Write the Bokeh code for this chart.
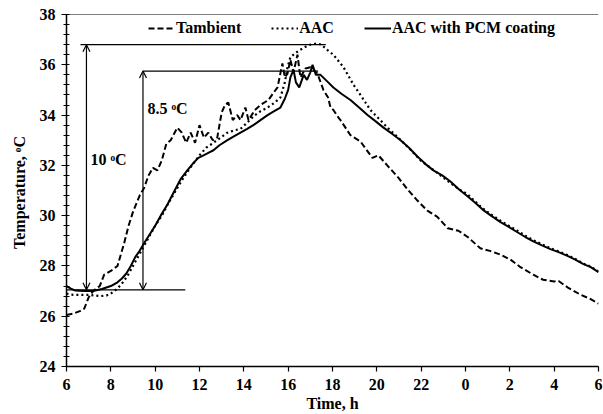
from bokeh.plotting import figure
from bokeh.models import Arrow, OpenHead, Span, Legend, LegendItem, FixedTicker, Label
from bokeh.embed import file_html
from bokeh.resources import INLINE

# time in clock hours, continuing past midnight (24 -> 0, 30 -> 6)
t_amb = [6.0, 6.3, 6.6, 6.8, 7.0, 7.2, 7.5, 7.7, 8.0, 8.3, 8.6, 8.8, 9.0, 9.3, 9.5, 9.7, 9.9, 10.1, 10.3, 10.5,
         10.7, 11.0, 11.2, 11.4, 11.6, 11.8, 12.0, 12.2, 12.4, 12.6, 12.8, 13.0, 13.15, 13.3, 13.5, 13.7, 13.85,
         14.07, 14.21, 14.5, 14.75, 15.11, 15.35, 15.52, 15.74, 15.85, 15.97, 16.1, 16.24, 16.42, 16.55, 16.78,
         17.0, 17.32, 17.59, 17.8, 17.91, 18.04, 18.27, 18.36, 18.81, 19.26, 19.8, 20.07, 20.52, 20.98, 21.38,
         21.83, 22.28, 22.73, 23.2, 23.68, 24.1, 24.67, 25.1, 25.58, 26.03, 26.48, 27.06, 27.5, 28.0, 28.2,
         28.6, 29.2, 29.6, 30.0]
tambient = [26.05, 26.1, 26.2, 26.3, 26.75, 27.0, 27.2, 27.65, 27.8, 28.0, 28.9, 29.6, 30.15, 30.8, 31.1, 31.6,
            31.9, 31.8, 32.2, 32.85, 33.0, 33.5, 33.3, 32.9, 33.3, 32.9, 33.6, 33.1, 33.3, 33.0, 33.1, 34.1, 34.4,
            34.5, 33.8, 34.0, 33.8, 34.3, 33.8, 34.2, 34.4, 34.6, 34.9, 35.1, 36.05, 35.5, 35.65, 36.2, 35.7,
            36.4, 35.5, 35.85, 35.9, 35.65, 35.0, 34.7, 34.3, 34.2, 33.9, 33.8, 33.2, 32.95, 32.3, 32.4, 31.95,
            31.5, 31.05, 30.6, 30.2, 29.95, 29.5, 29.4, 29.15, 28.7, 28.6, 28.45, 28.25, 27.95, 27.65, 27.45,
            27.38, 27.4, 27.15, 26.85, 26.7, 26.5]

t_aac = [6.0, 6.3, 6.6, 7.0, 7.5, 7.8, 8.0, 8.3, 8.5, 8.75, 9.0, 9.25, 9.5, 9.75, 10.0, 10.3, 10.6, 10.9, 11.2,
         11.5, 11.75, 12.0, 12.3, 12.63, 12.95, 13.26, 13.6, 13.85, 14.15, 14.43, 14.75, 15.07, 15.4, 15.65,
         15.85, 15.97, 16.1, 16.3, 16.55, 16.85, 17.0, 17.3, 17.5, 17.75, 18.04, 18.27, 18.5, 18.95, 19.3,
         19.71, 20.1, 20.48, 20.85, 21.2, 21.6, 21.97, 22.35, 22.73, 23.1, 23.46, 23.8, 24.09, 24.45, 24.76,
         25.15, 25.58, 25.95, 26.34, 26.7, 27.06, 27.45, 27.83, 28.2, 28.6, 28.95, 29.3, 29.65, 30.0]
aac = [26.9, 26.85, 26.85, 26.85, 26.8, 26.82, 26.9, 27.1, 27.3, 27.6, 28.0, 28.4, 28.8, 29.2, 29.6, 30.0, 30.5,
       30.95, 31.4, 31.8, 32.1, 32.4, 32.7, 32.9, 33.1, 33.3, 33.4, 33.45, 33.7, 33.95, 34.15, 34.3, 34.5, 34.7,
       35.3, 35.9, 36.3, 36.45, 36.6, 36.75, 36.8, 36.85, 36.8, 36.6, 36.4, 36.15, 35.9, 35.2, 34.75, 34.2,
       33.85, 33.5, 33.2, 32.9, 32.55, 32.2, 31.95, 31.7, 31.45, 31.2, 31.0, 30.85, 30.55, 30.3, 30.05, 29.8,
       29.6, 29.4, 29.2, 29.02, 28.86, 28.7, 28.58, 28.43, 28.28, 28.1, 27.97, 27.78]

t_pcm = [6.0, 6.2, 6.4, 6.8, 7.2, 7.6, 8.0, 8.3, 8.5, 8.7, 8.9, 9.1, 9.3, 9.5, 9.75, 10.0, 10.25, 10.56, 10.85,
         11.14, 11.45, 11.73, 11.95, 12.18, 12.4, 12.63, 12.9, 13.26, 13.55, 13.85, 14.15, 14.43, 14.75, 15.07,
         15.35, 15.65, 15.85, 16.0, 16.1, 16.24, 16.35, 16.5, 16.7, 16.85, 17.0, 17.1, 17.25, 17.46, 17.75,
         18.04, 18.4, 18.81, 19.2, 19.58, 19.95, 20.3, 20.7, 21.07, 21.45, 21.83, 22.2, 22.55, 22.95, 23.32,
         23.7, 24.09, 24.45, 24.76, 25.15, 25.58, 25.95, 26.34, 26.7, 27.06, 27.45, 27.83, 28.2, 28.6, 28.95,
         29.3, 29.65, 30.0]
pcm = [27.2, 27.1, 27.02, 27.0, 27.0, 27.08, 27.2, 27.35, 27.5, 27.7, 28.0, 28.35, 28.6, 28.9, 29.25, 29.6,
       30.0, 30.45, 30.95, 31.44, 31.8, 32.1, 32.3, 32.4, 32.5, 32.6, 32.8, 33.0, 33.15, 33.3, 33.45, 33.6, 33.8,
       34.0, 34.15, 34.3, 34.65, 35.0, 35.5, 35.8, 35.3, 35.1, 35.6, 35.4, 35.7, 36.0, 35.6, 35.6, 35.35, 35.1,
       34.85, 34.6, 34.3, 34.0, 33.75, 33.5, 33.25, 33.0, 32.7, 32.35, 32.05, 31.8, 31.6, 31.36, 31.05, 30.77,
       30.5, 30.25, 30.0, 29.74, 29.55, 29.34, 29.15, 28.98, 28.82, 28.67, 28.55, 28.4, 28.25, 28.08, 27.95,
       27.75]

x_ticks = [6, 8, 10, 12, 14, 16, 18, 20, 22, 24, 26, 28, 30]
x_tick_labels = ["6", "8", "10", "12", "14", "16", "18", "20", "22", "0", "2", "4", "6"]
y_ticks = [24, 26, 28, 30, 32, 34, 36, 38]

# annotation guide lines (temperature levels and time extents)
guide_y = [36.8, 35.75, 27.05]
guide_x0 = [6.63, 9.45, 6.0]
guide_x1 = [17.7, 17.35, 11.36]
arrow_x = [6.9, 9.45]
arrow_y0 = [27.05, 27.05]
arrow_y1 = [36.8, 35.75]
note_text = ["10 \u1d52C", "8.5 \u1d52C"]
note_x = [7.08, 9.65]
note_y = [32.23, 34.28]

FONT = "Liberation Serif"
FS = "16px"

p = figure(width=603, height=414, output_backend="svg", toolbar_location=None,
           x_range=(6, 30), y_range=(24, 38),
           min_border_left=66, min_border_right=5, min_border_top=14, min_border_bottom=46)
p.outline_line_color = None
p.grid.visible = False
p.background_fill_color = "white"
p.border_fill_color = "white"

r_amb = p.line(t_amb, tambient, line_color="black", line_width=2, line_dash="6 3")
r_aac = p.line(t_aac, aac, line_color="black", line_width=2.2, line_dash="2 3")
r_pcm = p.line(t_pcm, pcm, line_color="black", line_width=2)

# top frame line
p.add_layout(Span(location=38, dimension="width", line_color="black", line_width=1.2))

# guide lines
p.segment(x0=guide_x0, y0=guide_y, x1=guide_x1, y1=guide_y, line_color="black", line_width=1.2)

for i in range(len(arrow_x)):
    p.add_layout(Arrow(x_start=arrow_x[i], y_start=arrow_y0[i], x_end=arrow_x[i], y_end=arrow_y1[i],
                       line_color="black", line_width=1.2,
                       end=OpenHead(size=7, line_width=1.2, line_color="black"),
                       start=OpenHead(size=7, line_width=1.2, line_color="black")))
    p.add_layout(Label(x=note_x[i], y=note_y[i], text=note_text[i], text_font=FONT,
                       text_font_style="bold", text_font_size=FS, text_color="black",
                       text_baseline="middle", text_align="left"))

# axes
p.xaxis.ticker = FixedTicker(ticks=x_ticks)
p.xaxis.major_label_overrides = {x_ticks[i]: x_tick_labels[i] for i in range(len(x_ticks))}
p.yaxis.ticker = FixedTicker(ticks=y_ticks, minor_ticks=[24 + 0.4 * k for k in range(36)])
for ax in (p.xaxis, p.yaxis):
    ax.axis_line_color = "black"
    ax.axis_line_width = 1.5
    ax.major_tick_line_color = "black"
    ax.major_tick_line_width = 1.2
    ax.major_tick_out = 5
    ax.major_tick_in = 0
    ax.major_label_text_font = FONT
    ax.major_label_text_font_style = "bold"
    ax.major_label_text_font_size = FS
    ax.major_label_text_color = "black"
    ax.axis_label_text_font = FONT
    ax.axis_label_text_font_style = "bold"
    ax.axis_label_text_font_size = FS
    ax.axis_label_text_color = "black"
p.xaxis.minor_tick_line_color = None
p.yaxis.minor_tick_line_color = "black"
p.yaxis.minor_tick_in = 3
p.yaxis.minor_tick_out = 3
p.xaxis.major_label_standoff = 7
p.yaxis.major_label_standoff = 6
p.xaxis.axis_label = "Time, h"
p.yaxis.axis_label = "Temperature,  \u1d52C"
p.xaxis.axis_label_standoff = 2
p.yaxis.axis_label_standoff = 9

legend = Legend(items=[LegendItem(label="Tambient", renderers=[r_amb]),
                       LegendItem(label="AAC", renderers=[r_aac]),
                       LegendItem(label="AAC with PCM coating", renderers=[r_pcm])],
                orientation="horizontal", location=(82, 328), padding=0, margin=0,
                spacing=30, glyph_width=27, glyph_height=20, label_standoff=1,
                label_text_font=FONT, label_text_font_style="bold", label_text_font_size=FS,
                label_text_color="black", border_line_color=None, background_fill_alpha=0)
p.add_layout(legend)

open("out.html", "w").write(file_html(p, INLINE))
